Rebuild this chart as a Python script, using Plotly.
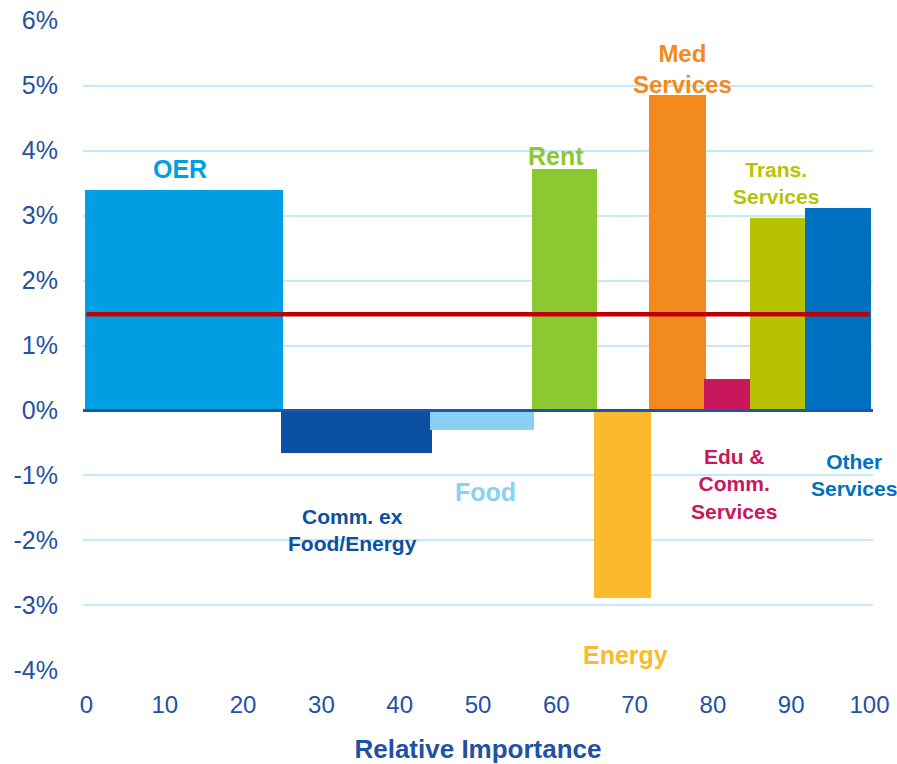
import numpy as np
import plotly.graph_objects as go

# components, relative importance weights (sum 100) and yoy change in %
categories = ["OER", "Comm. ex Food/Energy", "Food", "Rent", "Energy",
              "Med Services", "Edu & Comm. Services", "Trans. Services", "Other Services"]
weights = [25.0, 19.0, 13.0, 8.0, 7.0, 7.0, 5.9, 7.0, 8.1]
changes = [3.40, -0.65, -0.30, 3.71, -2.88, 4.85, 0.48, 2.97, 3.11]
headline = 1.48  # red line

colors = ["#009fe3", "#0b50a3", "#89d1f3", "#8cc832", "#fbb92d",
          "#f28a1e", "#c8175c", "#b8c300", "#0070c0"]

# label text and where it sits (x in relative importance, y in %)
label_text = ["OER", "Comm. ex<br>Food/Energy", "Food", "Rent", "Energy",
              "Med<br>Services", "Edu &<br>Comm.<br>Services", "Trans.<br>Services", "Other<br>Services"]
label_x = [12.0, 34.0, 50.9, 60.0, 68.8, 76.1, 82.7, 88.0, 98.0]
label_y = [3.72, -1.84, -1.26, 3.92, -3.77, 5.25, -1.13, 3.50, -1.0]
label_size = [25, 21, 25, 25, 25, 24, 21, 21, 21]

tick_col = "#1f52a3"
font_fam = "Arial, Liberation Sans, sans-serif"

right = np.cumsum(weights)
left = right - np.array(weights)
centers = (left + right) / 2

fig = go.Figure()

fig.add_trace(go.Bar(
    x=centers,
    y=changes,
    width=np.array(weights) + 0.3,
    marker=dict(color=colors, line=dict(width=0)),
    hovertext=categories,
    showlegend=False
))

# headline inflation line
fig.add_trace(go.Scatter(
    x=[0, 100],
    y=[headline, headline],
    mode="lines",
    line=dict(color="#c00000", width=4.5),
    showlegend=False
))

# zero line drawn on top of the bars
fig.add_shape(type="line", xref="paper", x0=0, x1=1, yref="y", y0=0, y1=0,
              line=dict(color="#1f55a8", width=3), layer="above")

for t, x, y, c, s in zip(label_text, label_x, label_y, colors, label_size):
    fig.add_annotation(x=x, y=y, text="<b>" + t + "</b>", showarrow=False,
                       font=dict(color=c, size=s, family=font_fam),
                       xanchor="center", yanchor="middle")

fig.update_xaxes(
    range=[-0.45, 100.45],
    tickvals=list(range(0, 101, 10)),
    showgrid=False, zeroline=False, automargin=False,
    ticks="outside", ticklen=12, tickcolor="rgba(0,0,0,0)",
    tickfont=dict(size=24, color=tick_col, family=font_fam),
    title=dict(text="<b>Relative Importance</b>", standoff=34,
               font=dict(size=26, color=tick_col, family=font_fam))
)
fig.update_yaxes(
    range=[-4.01, 6.01],
    tickvals=list(range(-4, 7)),
    ticktext=[f"{v}%" for v in range(-4, 7)],
    showgrid=True, gridcolor="#c6e9f9", gridwidth=1.5,
    zeroline=False, automargin=False,
    ticks="outside", ticklen=19, tickcolor="rgba(0,0,0,0)",
    tickfont=dict(size=25, color=tick_col, family=font_fam)
)

fig.update_layout(
    width=897, height=764,
    margin=dict(l=83, r=24, t=20, b=93),
    plot_bgcolor="white", paper_bgcolor="white",
    bargap=0
)

# drop the default page margin so the figure sits at the window corner
fig.write_html("out.html", config={"displayModeBar": False},
               post_script="document.body.style.margin='0px';")
